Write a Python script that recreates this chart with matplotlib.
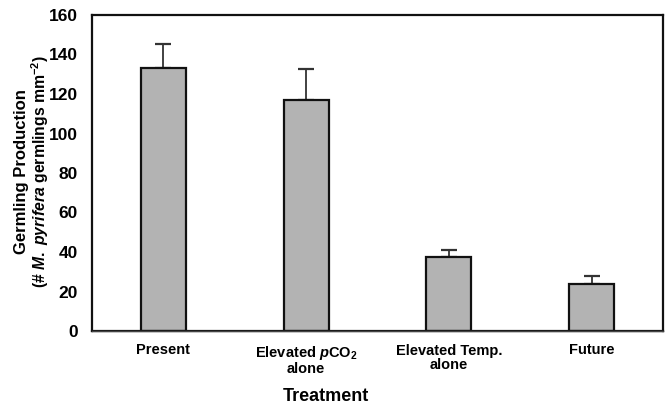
import matplotlib
matplotlib.use("Agg")
import matplotlib.pyplot as plt
import numpy as np

categories = ["Present", "Elevated $\\mathit{p}$CO$_{2}$\nalone", "Elevated Temp.\nalone", "Future"]
values = [133.3, 117.0, 37.3, 23.8]
errors = [11.9, 15.8, 3.7, 3.9]

plt.rcParams['font.family'] = ['Liberation Sans', 'DejaVu Sans']
plt.rcParams['font.weight'] = 'bold'
plt.rcParams['mathtext.fontset'] = 'custom'
plt.rcParams['mathtext.rm'] = 'Liberation Sans:bold'
plt.rcParams['mathtext.bf'] = 'Liberation Sans:bold'
plt.rcParams['mathtext.it'] = 'Liberation Sans:italic:bold'
plt.rcParams['mathtext.default'] = 'rm'

fig = plt.figure(figsize=(6.7, 4.07), dpi=100)
ax = fig.add_axes([92/670, 76/407, 571/670, 316/407])

x = np.arange(len(categories))
ax.bar(x, values, width=0.315, color='#b3b3b3', edgecolor='#111111', linewidth=1.6, zorder=2)
ax.errorbar(x, values, yerr=[np.zeros(len(errors)), errors], fmt='none',
            ecolor='#333333', elinewidth=1.3, capsize=5.5, capthick=1.6, zorder=1)

ax.set_xlim(-0.5, 3.5)
ax.set_ylim(0, 160)
ax.set_yticks(np.arange(0, 161, 20))
ax.set_xticks(x)
ax.set_xticklabels(categories, fontsize=10.5, fontweight='bold', linespacing=1.05)
ax.tick_params(axis='y', length=0, pad=10, labelsize=12.5)
ax.tick_params(axis='x', length=0, pad=9)
for lab in ax.get_yticklabels():
    lab.set_fontweight('bold')

for s in ax.spines.values():
    s.set_linewidth(1.6)
    s.set_color('#111111')
ax.axhline(0, color='#444444', lw=1.0, zorder=3, clip_on=False)

ycen = 1 - 172 / 407
fig.text(22 / 670, ycen, "Germling Production", rotation=90, ha='center', va='center',
         fontsize=12, fontweight='bold')
fig.text(40 / 670, ycen, "(# $\\mathit{M.\\ pyrifera}$ germlings mm$^{-2}$)", rotation=90,
         ha='center', va='center', fontsize=11.3, fontweight='bold')

ax.set_xlabel("Treatment", fontsize=13, fontweight='bold')
ax.xaxis.label.set_va('center')
ax.xaxis.set_label_coords(0.41, -0.206)

fig.savefig("out.png", dpi=100)
